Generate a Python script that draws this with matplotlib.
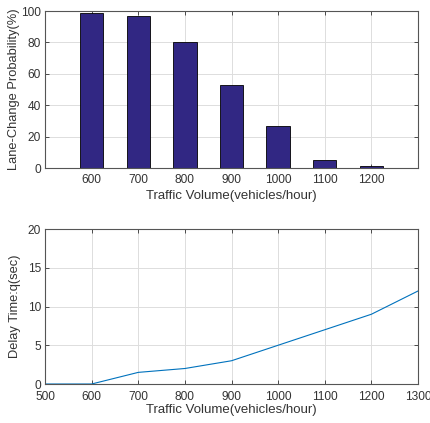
import matplotlib
matplotlib.use('Agg')
import matplotlib.pyplot as plt

# bar chart data
volumes = [600, 700, 800, 900, 1000, 1100, 1200]
lane_change_prob = [99, 97, 80, 53, 27, 5, 1.5]

# line chart data
volumes_line = [500, 600, 700, 800, 900, 1000, 1100, 1200, 1300]
delay_time = [0, 0, 1.5, 2, 3, 5, 7, 9, 12]

plt.rcParams['font.family'] = ['Liberation Sans', 'DejaVu Sans']
plt.rcParams['font.size'] = 9

fig = plt.figure(figsize=(4.30, 4.23), dpi=100)
ax1 = fig.add_axes([45/430, 1-168/423, 373/430, 157/423])
ax2 = fig.add_axes([45/430, 1-384/423, 373/430, 155/423])

edge = '#555555'
for ax in (ax1, ax2):
    ax.grid(True, color='#dddddd', linewidth=0.7)
    ax.set_axisbelow(True)
    for s in ax.spines.values():
        s.set_color(edge)
        s.set_linewidth(0.8)
    ax.tick_params(colors='#333333', labelcolor='#333333', direction='in',
                   length=3, width=0.6, labelsize=8.6, pad=4)
    ax.tick_params(top=True, right=True)
    ax.tick_params(axis='y', pad=3)

ax1.bar(volumes, lane_change_prob, width=50, color='#312783', edgecolor='black', linewidth=0.6)
ax1.set_xlim(500, 1300)
ax1.set_ylim(0, 100)
ax1.set_xticks(volumes)
ax1.set_yticks([0, 20, 40, 60, 80, 100])
ax1.set_xlabel('Traffic Volume(vehicles/hour)', color='#333333', fontsize=9.5, labelpad=3)
ax1.set_ylabel('Lane-Change Probability(%)', color='#333333', fontsize=9.3, labelpad=1)

ax2.plot(volumes_line, delay_time, color='#0072BD', linewidth=0.8)
ax2.set_xlim(500, 1300)
ax2.set_ylim(0, 20)
ax2.set_xticks(volumes_line)
ax2.set_yticks([0, 5, 10, 15, 20])
ax2.tick_params(axis='x', pad=5)
ax2.set_xlabel('Traffic Volume(vehicles/hour)', color='#333333', fontsize=9.5, labelpad=1)
ax2.set_ylabel('Delay Time:q(sec)', color='#333333', fontsize=9.3, labelpad=5)

fig.savefig('out.png', dpi=100, facecolor='white')
